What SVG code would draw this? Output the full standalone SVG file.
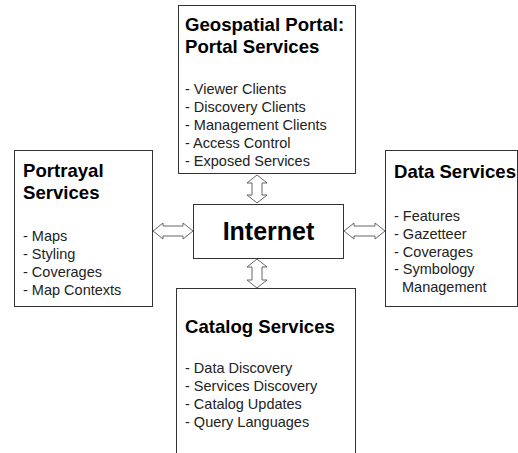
<svg xmlns="http://www.w3.org/2000/svg" width="518" height="453" viewBox="0 0 518 453">
<style>
.box{fill:#fff;stroke:#333;stroke-width:1}
.t{font-family:"Liberation Sans",Arial,sans-serif;font-weight:bold;font-size:18.6px;fill:#000}
.i{font-family:"Liberation Sans",Arial,sans-serif;font-size:14.5px;fill:#222}
.arr{fill:#fff;stroke:#666;stroke-width:1}
</style>
<rect width="518" height="453" fill="#fff"/>
<g id="portal">
<rect class="box" x="178.5" y="5.5" width="177" height="168"/>
<text class="t" x="185" y="31">Geospatial Portal:</text>
<text class="t" x="185" y="53">Portal Services</text>
<text class="i" x="185" y="94">- Viewer Clients</text>
<text class="i" x="185" y="112">- Discovery Clients</text>
<text class="i" x="185" y="130">- Management Clients</text>
<text class="i" x="185" y="148">- Access Control</text>
<text class="i" x="185" y="166">- Exposed Services</text>
</g>
<g id="portrayal">
<rect class="box" x="14.5" y="150.5" width="138" height="156"/>
<text class="t" x="23" y="177">Portrayal</text>
<text class="t" x="23" y="199">Services</text>
<text class="i" x="23" y="241">- Maps</text>
<text class="i" x="23" y="259">- Styling</text>
<text class="i" x="23" y="277">- Coverages</text>
<text class="i" x="23" y="295">- Map Contexts</text>
</g>
<g id="data">
<rect class="box" x="385.5" y="150.5" width="132" height="156"/>
<text class="t" x="394" y="178">Data Services</text>
<text class="i" x="394" y="221">- Features</text>
<text class="i" x="394" y="239">- Gazetteer</text>
<text class="i" x="394" y="257">- Coverages</text>
<text class="i" x="394" y="274">- Symbology</text>
<text class="i" x="402" y="292">Management</text>
</g>
<g id="internet">
<rect class="box" x="193.5" y="204.5" width="150" height="54"/>
<text class="t" x="268.5" y="240" text-anchor="middle" style="font-size:25px">Internet</text>
</g>
<g id="catalog">
<rect class="box" x="176.5" y="288.5" width="179" height="170"/>
<text class="t" x="185" y="333">Catalog Services</text>
<text class="i" x="185" y="373">- Data Discovery</text>
<text class="i" x="185" y="391">- Services Discovery</text>
<text class="i" x="185" y="409">- Catalog Updates</text>
<text class="i" x="185" y="427">- Query Languages</text>
</g>
<g id="connectors">
<path class="arr" d="M257,175 L267,183 L262,183 L262,195 L267,195 L257,203 L247,195 L252,195 L252,183 L247,183 Z"/>
<path class="arr" d="M257,259 L267,267 L262,267 L262,280 L267,280 L257,288 L247,280 L252,280 L252,267 L247,267 Z"/>
<path class="arr" d="M153,231 L163,223 L163,226 L183,226 L183,223 L193,231 L183,239 L183,236 L163,236 L163,239 Z"/>
<path class="arr" d="M344,231 L354,223 L354,226 L375,226 L375,223 L385,231 L375,239 L375,236 L354,236 L354,239 Z"/>
</g>
</svg>
